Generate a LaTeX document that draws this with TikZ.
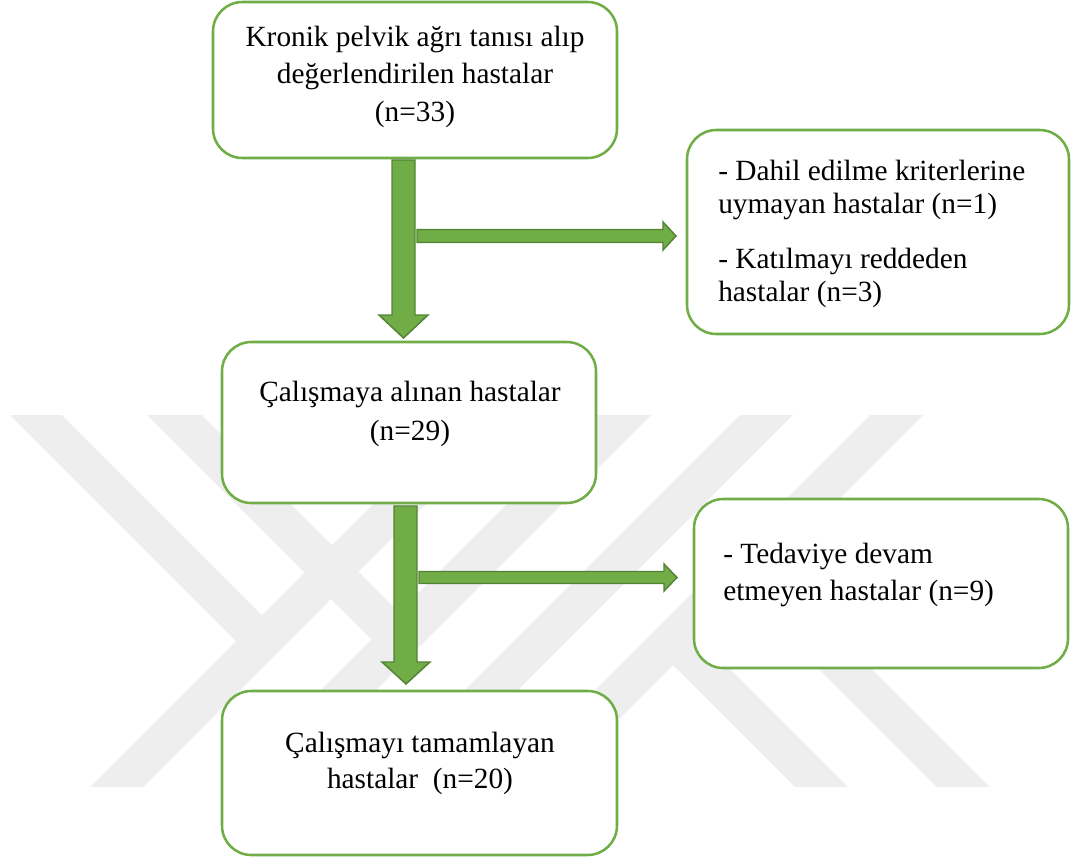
\documentclass[tikz,border=0pt]{standalone}
\usepackage{fontspec}
\setmainfont{Liberation Serif}
\definecolor{boxgreen}{HTML}{70AD47}
\definecolor{arrowedge}{HTML}{548235}
\definecolor{wm}{HTML}{EEEEEE}
\begin{document}
\begin{tikzpicture}[x=0.75pt,y=-0.75pt,
  box/.style={draw=boxgreen, line width=1.9pt, fill=white, rounded corners=22pt, rectangle, inner sep=0pt},
  txt/.style={font=\fontsize{22pt}{26pt}\selectfont, inner sep=0pt, text=black},
  blockarrow/.style={fill=boxgreen, draw=arrowedge, line width=1.1pt, line join=miter},
  wmark/.style={fill=wm, draw=none}]
\useasboundingbox (0,0) rectangle (1072,858);
% watermark
\fill[wmark] (10,415) -- (62,415) -- (288,641) -- (236,641) -- cycle;
\fill[wmark] (90,787) -- (143,787) -- (515,415) -- (462,415) -- cycle;
\fill[wmark] (147,415) -- (202,415) -- (426.5,639.5) -- (371.5,639.5) -- cycle;
\fill[wmark] (596,415) -- (651,415) -- (279,787) -- (224,787) -- cycle;
\fill[wmark] (740,415) -- (793,415) -- (421,787) -- (368,787) -- cycle;
\fill[wmark] (870,415) -- (923,415) -- (551,787) -- (498,787) -- cycle;
\fill[wmark] (646.5,638.5) -- (699.5,638.5) -- (848,787) -- (795,787) -- cycle;
\fill[wmark] (717.5,567.5) -- (770.5,567.5) -- (990,787) -- (937,787) -- cycle;
% boxes
\node[box, minimum width=303pt, minimum height=117pt] (b1) at (415,80) {};
\node[box, minimum width=286.5pt, minimum height=153pt] (b2) at (878,232) {};
\node[box, minimum width=280.5pt, minimum height=120.75pt] (b3) at (409,422.5) {};
\node[box, minimum width=296.25pt, minimum height=123pt] (b4) at (419.5,773) {};
\node[box, minimum width=280.5pt, minimum height=126.75pt] (b5) at (881,583.5) {};
% texts
\node[txt, anchor=base] (t1a) at (415,46.7) {Kronik pelvik ağrı tanısı alıp};
\node[txt, anchor=base] (t1b) at (415,83.5) {değerlendirilen hastalar};
\node[txt, anchor=base] (t1c) at (415,121.7) {(n=33)};
\node[txt, anchor=base west] (t2a) at (718,180) {- Dahil edilme kriterlerine};
\node[txt, anchor=base west] (t2b) at (718,213) {uymayan hastalar (n=1)};
\node[txt, anchor=base west] (t2c) at (718,268) {- Katılmayı reddeden};
\node[txt, anchor=base west] (t2d) at (718,301) {hastalar (n=3)};
\node[txt, anchor=base] (t3a) at (410,401.5) {Çalışmaya alınan hastalar};
\node[txt, anchor=base] (t3b) at (410,440) {(n=29)};
\node[txt, anchor=base] (t4a) at (420,752) {Çalışmayı tamamlayan};
\node[txt, anchor=base] (t4b) at (420,788.5) {hastalar\ \ (n=20)};
\node[txt, anchor=base west] (t5a) at (723,563) {- Tedaviye devam};
\node[txt, anchor=base west] (t5b) at (723,600) {etmeyen hastalar (n=9)};
% block arrows
\draw[blockarrow] (392,160) -- (415,160) -- (415,315) -- (428,315) -- (403.5,338) -- (379,315) -- (392,315) -- cycle;
\draw[blockarrow] (417,229.5) -- (663,229.5) -- (663,222) -- (676,236) -- (663,250) -- (663,242.5) -- (417,242.5) -- cycle;
\draw[blockarrow] (394,506) -- (417,506) -- (417,662) -- (430,662) -- (406,684) -- (382,662) -- (394,662) -- cycle;
\draw[blockarrow] (419,571.5) -- (664,571.5) -- (664,564) -- (677,577.5) -- (664,591) -- (664,583.5) -- (419,583.5) -- cycle;
\end{tikzpicture}
\end{document}
